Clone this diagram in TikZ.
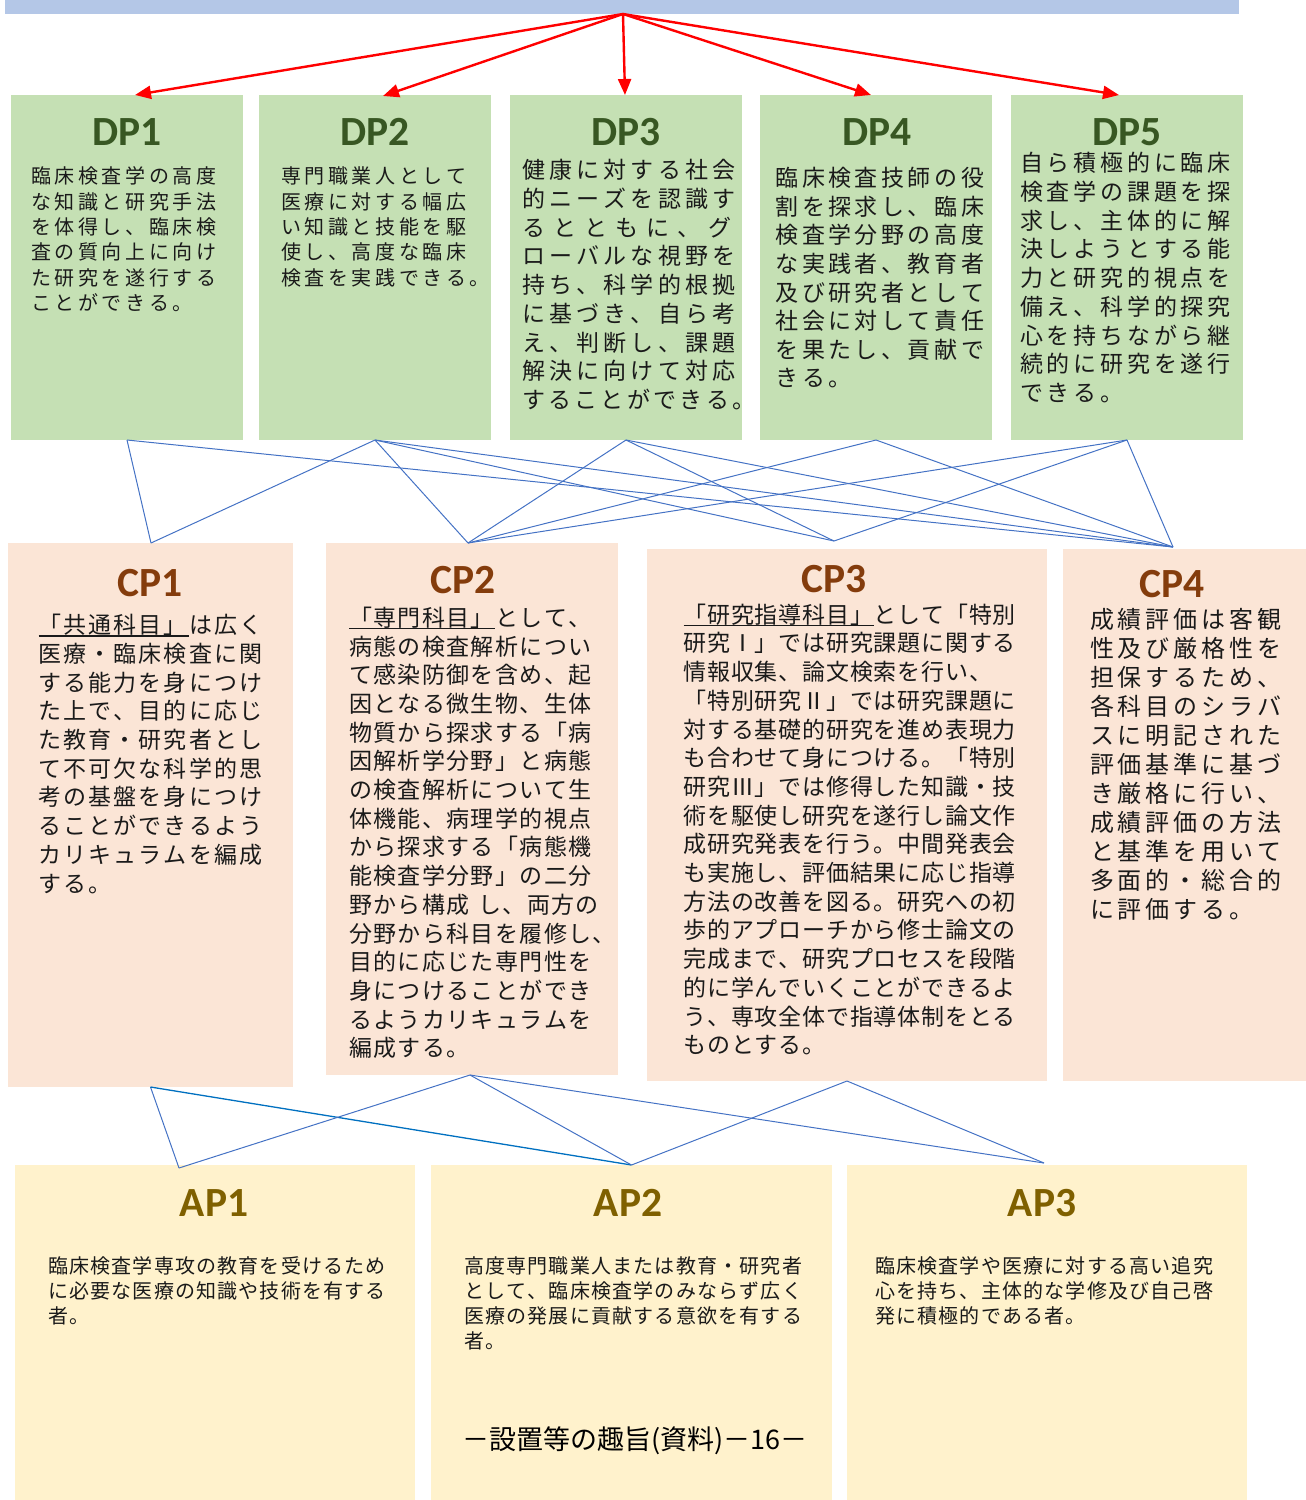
\documentclass[tikz,border=0pt]{standalone}
\usepackage{fontspec}
\usetikzlibrary{arrows.meta}
\newfontfamily\jpf{Noto Sans CJK JP}
\newfontfamily\ttlf{Carlito}
\definecolor{dpfill}{HTML}{C5E0B4}
\definecolor{dptitle}{HTML}{385723}
\definecolor{cpfill}{HTML}{FBE5D6}
\definecolor{cptitle}{HTML}{843C0C}
\definecolor{apfill}{HTML}{FFF2CC}
\definecolor{aptitle}{HTML}{7F6000}
\definecolor{topbar}{HTML}{B4C7E7}
\definecolor{lnblue}{HTML}{4472C4}
\definecolor{lnblue2}{HTML}{0070C0}
\definecolor{txtc}{HTML}{1A1A1A}
\newdimen\pch
\def\hsp{HSP}
\def\fl#1{\hbox{\flA#1\relax}}
\def\flp#1#2{\hbox{\pch=#1\relax\flA#2\relax}}
\def\flA#1{\ifx\relax#1\else\ifx\hsp#1\kern.3\pch\else\hbox to\pch{#1\hss}\fi\expandafter\flA\fi}
\def\ulx#1{\setbox0\hbox{#1}\rlap{\vrule width\wd0 height-1.6pt depth2.8pt}\box0}
\newcommand\blk[4]{\jpf\fontsize{#1}{#2}\selectfont\pch=#3\relax\vtop{\baselineskip=#2\relax\lineskiplimit=-\maxdimen\lineskip=0pt #4}}
\tikzset{
  box/.style={anchor=north west, inner sep=0, outer sep=0},
  ttl/.style={font=\ttlf\bfseries\fontsize{41.5pt}{41.5pt}\selectfont, anchor=base, inner sep=0},
  txt/.style={anchor=base west, inner sep=0, outer sep=0, text=txtc},
  redarr/.style={draw=red, line width=2.4pt, -{Triangle[length=16pt,width=13pt]}},
  bl/.style={draw=lnblue, line width=1pt},
  bl2/.style={draw=lnblue2, line width=1.3pt}
}
\begin{document}
\begin{tikzpicture}[x=1pt,y=-1pt]
\useasboundingbox (0,0) rectangle (1306,1500);
% top bar
\node[box, fill=topbar, minimum width=1234pt, minimum height=14pt] (top) at (5,0) {};
% DP boxes
\node[box, fill=dpfill, minimum width=232pt, minimum height=345pt] (dp1) at (11,95) {};
\node[box, fill=dpfill, minimum width=232pt, minimum height=345pt] (dp2) at (259,95) {};
\node[box, fill=dpfill, minimum width=232pt, minimum height=345pt] (dp3) at (510,95) {};
\node[box, fill=dpfill, minimum width=232pt, minimum height=345pt] (dp4) at (760,95) {};
\node[box, fill=dpfill, minimum width=232pt, minimum height=345pt] (dp5) at (1011,95) {};
% CP boxes
\node[box, fill=cpfill, minimum width=285pt, minimum height=544pt] (cp1) at (8,543) {};
\node[box, fill=cpfill, minimum width=292pt, minimum height=532pt] (cp2) at (326,543) {};
\node[box, fill=cpfill, minimum width=400pt, minimum height=532pt] (cp3) at (647,549) {};
\node[box, fill=cpfill, minimum width=243pt, minimum height=532pt] (cp4) at (1063,549) {};
% AP boxes
\node[box, fill=apfill, minimum width=400pt, minimum height=335pt] (ap1) at (15,1165) {};
\node[box, fill=apfill, minimum width=401pt, minimum height=335pt] (ap2) at (431,1165) {};
\node[box, fill=apfill, minimum width=400pt, minimum height=335pt] (ap3) at (847,1165) {};

% titles
\node[ttl, text=dptitle] (dp1h) at (127,145) {DP1};
\node[ttl, text=dptitle] (dp2h) at (375,145) {DP2};
\node[ttl, text=dptitle] (dp3h) at (626,145) {DP3};
\node[ttl, text=dptitle] (dp4h) at (877,145) {DP4};
\node[ttl, text=dptitle] (dp5h) at (1127,145) {DP5};
\node[ttl, text=cptitle] (cp1h) at (150,596) {CP1};
\node[ttl, text=cptitle] (cp2h) at (463,593) {CP2};
\node[ttl, text=cptitle] (cp3h) at (834,592) {CP3};
\node[ttl, text=cptitle] (cp4h) at (1172,597) {CP4};
\node[ttl, text=aptitle] (ap1h) at (214,1216) {AP1};
\node[ttl, text=aptitle] (ap2h) at (628,1216) {AP2};
\node[ttl, text=aptitle] (ap3h) at (1042,1216) {AP3};

% DP texts
\node[txt] (dp1b) at (31,183.6) {\blk{20pt}{25.4pt}{23.6pt}{%
\fl{臨床検査学の高度}
\fl{な知識と研究手法}
\fl{を体得し、臨床検}
\fl{査の質向上に向け}
\fl{た研究を遂行する}
\fl{ことができる。}}};
\node[txt] (dp2b) at (281,183.6) {\blk{20pt}{25.4pt}{23.6pt}{%
\fl{専門職業人として}
\fl{医療に対する幅広}
\fl{い知識と技能を駆}
\fl{使し、高度な臨床}
\fl{検査を実践できる。}}};
\node[txt] (dp3b) at (522,178.7) {\blk{23pt}{28.75pt}{27.2pt}{%
\fl{健康に対する社会}
\fl{的ニーズを認識す}
\flp{31.1pt}{るとともに、グ}
\fl{ローバルな視野を}
\fl{持ち、科学的根拠}
\fl{に基づき、自ら考}
\fl{え、判断し、課題}
\fl{解決に向けて対応}
\flp{26.3pt}{することができる。}}};
\node[txt] (dp4b) at (775.5,186.7) {\blk{23pt}{28.6pt}{26.5pt}{%
\fl{臨床検査技師の役}
\fl{割を探求し、臨床}
\fl{検査学分野の高度}
\fl{な実践者、教育者}
\fl{及び研究者として}
\fl{社会に対して責任}
\fl{を果たし、貢献で}
\fl{きる。}}};
\node[txt] (dp5b) at (1020,171.7) {\blk{23pt}{28.75pt}{26.8pt}{%
\fl{自ら積極的に臨床}
\fl{検査学の課題を探}
\fl{求し、主体的に解}
\fl{決しようとする能}
\fl{力と研究的視点を}
\fl{備え、科学的探究}
\fl{心を持ちながら継}
\fl{続的に研究を遂行}
\fl{できる。}}};

% CP texts
\node[txt] (cp1b) at (38.5,633.7) {\blk{23pt}{28.7pt}{25.1pt}{%
\hbox{\ulx{\fl{「共通科目」}}\fl{は広く}}
\fl{医療・臨床検査に関}
\fl{する能力を身につけ}
\fl{た上で、目的に応じ}
\fl{た教育・研究者とし}
\fl{て不可欠な科学的思}
\fl{考の基盤を身につけ}
\fl{ることができるよう}
\fl{カリキュラムを編成}
\fl{する。}}};
\node[txt] (cp2b) at (349,626.3) {\blk{23pt}{28.7pt}{24.4pt}{%
\hbox{\ulx{\fl{「専門科目」}}\fl{として、}}
\fl{病態の検査解析につい}
\fl{て感染防御を含め、起}
\fl{因となる微生物、生体}
\fl{物質から探求する「病}
\fl{因解析学分野」と病態}
\fl{の検査解析について生}
\fl{体機能、病理学的視点}
\fl{から探求する「病態機}
\fl{能検査学分野」の二分}
\fl{野から構成\hsp し、両方の}
\fl{分野から科目を履修し、}
\fl{目的に応じた専門性を}
\fl{身につけることができ}
\fl{るようカリキュラムを}
\fl{編成する。}}};
\node[txt] (cp3b) at (683.5,623.2) {\blk{23pt}{28.7pt}{23.8pt}{%
\hbox{\ulx{\fl{「研究指導科目」}}\fl{として「特別}}
\fl{研究Ⅰ」では研究課題に関する}
\fl{情報収集、論文検索を行い、}
\fl{「特別研究Ⅱ」では研究課題に}
\fl{対する基礎的研究を進め表現力}
\fl{も合わせて身につける。「特別}
\fl{研究Ⅲ」では修得した知識・技}
\fl{術を駆使し研究を遂行し論文作}
\fl{成研究発表を行う。中間発表会}
\fl{も実施し、評価結果に応じ指導}
\fl{方法の改善を図る。研究への初}
\fl{歩的アプローチから修士論文の}
\fl{完成まで、研究プロセスを段階}
\fl{的に学んでいくことができるよ}
\fl{う、専攻全体で指導体制をとる}
\fl{ものとする。}}};
\node[txt] (cp4b) at (1090,628.1) {\blk{24pt}{29pt}{27.9pt}{%
\fl{成績評価は客観}
\fl{性及び厳格性を}
\fl{担保するため、}
\fl{各科目のシラバ}
\fl{スに明記された}
\fl{評価基準に基づ}
\fl{き厳格に行い、}
\fl{成績評価の方法}
\fl{と基準を用いて}
\fl{多面的・総合的}
\fl{に評価する。}}};

% AP texts
\node[txt] (ap1b) at (48,1273.6) {\blk{20pt}{25pt}{21.2pt}{%
\fl{臨床検査学専攻の教育を受けるため}
\fl{に必要な医療の知識や技術を有する}
\fl{者。}}};
\node[txt] (ap2b) at (464,1273.6) {\blk{20pt}{25pt}{21.2pt}{%
\fl{高度専門職業人または教育・研究者}
\fl{として、臨床検査学のみならず広く}
\fl{医療の発展に貢献する意欲を有する}
\fl{者。}}};
\node[txt] (ap3b) at (875,1273.6) {\blk{20pt}{25pt}{21.2pt}{%
\fl{臨床検査学や医療に対する高い追究}
\fl{心を持ち、主体的な学修及び自己啓}
\fl{発に積極的である者。}}};

% footer
\node[anchor=base, inner sep=0, text=black, font=\jpf\fontsize{27pt}{27pt}\selectfont] (foot) at (635,1449) {－設置等の趣旨(資料)－16－};

% connector end points
\coordinate (src) at (623,14);
\coordinate (a1) at (135,95);
\coordinate (a2) at (383,96);
\coordinate (a3) at (625,95);
\coordinate (a4) at (871,95);
\coordinate (a5) at (1119,95);
\coordinate (cp1t) at (151,543);
\coordinate (cp2t) at (468,543);
\coordinate (cp3t) at (834,541);
\coordinate (cp4t) at (1173,547);
\coordinate (cp2bt) at (470,1075);
\coordinate (ap1t) at (179,1168);
\coordinate (ap3t) at (1044,1163);

% red arrows
\foreach \t in {a1,a2,a3,a4,a5} \draw[redarr] (src) -- (\t);

% DP -> CP lines
\foreach \s/\t in {dp1/cp1t, dp1/cp4t, dp2/cp1t, dp2/cp2t, dp2/cp3t, dp2/cp4t,
  dp3/cp2t, dp3/cp3t, dp3/cp4t, dp4/cp2t, dp4/cp4t, dp5/cp2t, dp5/cp3t, dp5/cp4t}
  \draw[bl] (\s.south) -- (\t);

% CP -> AP lines
\draw[bl] (cp1.south) -- (ap1t);
\draw[bl2] (cp1.south) -- (ap2.north);
\draw[bl] (cp2bt) -- (ap1t);
\draw[bl] (cp2bt) -- (ap2.north);
\draw[bl] (cp2bt) -- (ap3t);
\draw[bl] (cp3.south) -- (ap2.north);
\draw[bl] (cp3.south) -- (ap3t);
\end{tikzpicture}
\end{document}
